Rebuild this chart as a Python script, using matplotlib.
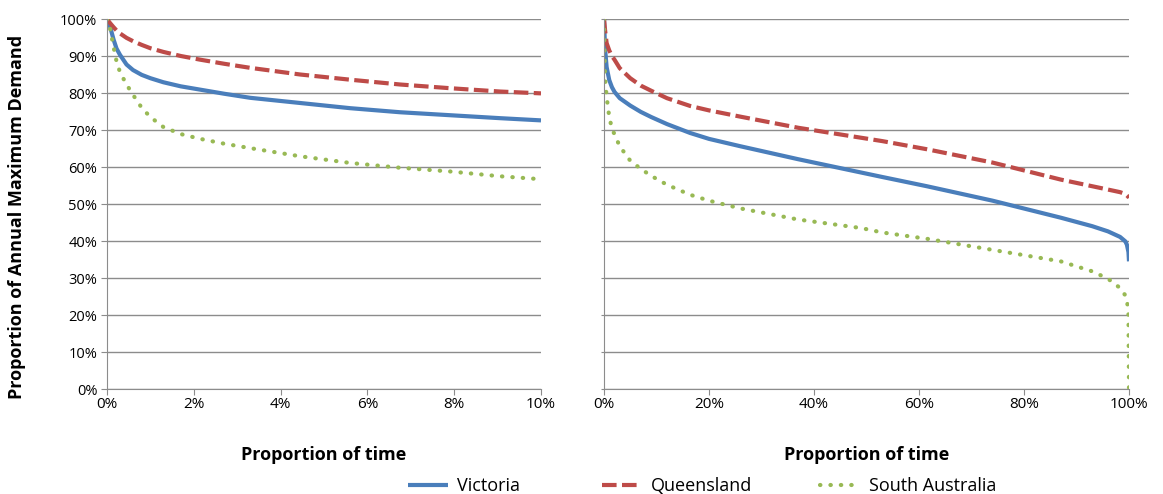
import numpy as np
import matplotlib
matplotlib.use('Agg')
import matplotlib.pyplot as plt
from matplotlib.ticker import FuncFormatter

plt.rcParams['font.family'] = ['Open Sans', 'DejaVu Sans']

# left panel: first 10% of time
x_left = [0, 0.03, 0.07, 0.15, 0.22, 0.3, 0.45, 0.6, 0.8, 1.0, 1.3, 1.7, 2.15, 2.7, 3.3, 4.45, 5.6, 6.75, 7.9, 9.05, 10]
vic_left = [100, 99, 98, 94.5, 92, 90.3, 87.7, 86.2, 84.9, 84, 82.9, 81.8, 80.9, 79.8, 78.7, 77.3, 75.9, 74.8, 74, 73.2, 72.6]
qld_left = [100, 99.5, 98.9, 97.8, 96.9, 96.1, 94.9, 94, 93, 92.1, 91.1, 90, 89, 87.9, 86.8, 85, 83.6, 82.3, 81.3, 80.4, 79.9]
sa_left = [100, 99, 97.5, 92.5, 88.5, 85.6, 82.3, 79.5, 76, 73.5, 70.8, 68.9, 67.6, 66.3, 65.1, 62.9, 61.1, 59.8, 58.8, 57.5, 56.7]

# right panel: whole year
x_right = [0, 0.1, 0.2, 0.5, 1, 1.5, 2, 3, 5, 7, 9, 12, 16.4, 20, 26, 37, 49, 53, 61.5, 74, 87, 93, 96, 98.3, 99.3, 99.6, 99.9, 100]
vic_right = [100, 96, 92, 87, 83.5, 81.6, 80.3, 78.6, 76.6, 74.9, 73.5, 71.6, 69.2, 67.6, 65.6, 62.1, 58.5, 57.3, 54.8, 50.9, 46.3, 44.0, 42.6, 41.1, 39.9, 39, 37, 34.5]
qld_right = [100, 98.5, 97, 93.5, 91.5, 90, 89, 86.7, 84, 82.0, 80.6, 78.6, 76.5, 75.3, 73.6, 70.6, 67.9, 67, 64.8, 61.2, 56.6, 54.8, 53.9, 53.2, 52.7, 52.3, 51.9, 51.6]
sa_right = [100, 90, 84, 79, 73.5, 70.5, 68.8, 65.6, 61.7, 59.5, 57.6, 55.2, 52.5, 50.9, 48.8, 45.8, 43.5, 42.3, 40.6, 37.6, 34.5, 31.8, 29.8, 27.3, 25.3, 24.3, 20, 0]

labels = ['Victoria', 'Queensland', 'South Australia']
colors = ['#4a7ebb', '#be4b48', '#98b954']

fig = plt.figure(figsize=(11.63, 4.94), dpi=100)
ax1 = fig.add_axes([107/1163, 1-389/494, (541-107)/1163, 370/494])
ax2 = fig.add_axes([604/1163, 1-389/494, (1129-604)/1163, 370/494])

pct = FuncFormatter(lambda v, p: '%d%%' % round(v))

def draw(ax, x, vic, qld, sa):
    l1, = ax.plot(x, vic, color=colors[0], lw=3, solid_capstyle='butt')
    l2, = ax.plot(x, qld, color=colors[1], lw=3, dashes=(3.5, 1.3))
    l3, = ax.plot(x, sa, color=colors[2], lw=3, dashes=(0.1, 2.4), dash_capstyle='round')
    ax.set_ylim(0, 100)
    ax.set_yticks(range(0, 101, 10))
    ax.yaxis.grid(True, color='#8c8c8c', lw=1)
    ax.set_axisbelow(True)
    for s in ['top', 'right']:
        ax.spines[s].set_visible(False)
    for s in ['left', 'bottom']:
        ax.spines[s].set_color('#8c8c8c')
    ax.tick_params(axis='x', direction='out', length=4, color='#8c8c8c', labelsize=11, pad=2)
    ax.tick_params(axis='y', direction='out', length=4, color='#8c8c8c', labelsize=10.5, pad=3)
    ax.xaxis.set_major_formatter(pct)
    ax.yaxis.set_major_formatter(pct)
    ax.set_xlabel('Proportion of time', fontsize=13, fontweight='bold', labelpad=24)
    return [l1, l2, l3]

lines = draw(ax1, x_left, vic_left, qld_left, sa_left)
ax1.set_xlim(0, 10)
ax1.set_xticks(range(0, 11, 2))
ax1.set_ylabel('Proportion of Annual Maximum Demand', fontsize=13, fontweight='bold')
ax1.yaxis.set_label_coords(-0.186, 0.465)

draw(ax2, x_right, vic_right, qld_right, sa_right)
ax2.set_xlim(0, 100)
ax2.set_xticks(range(0, 101, 20))
ax2.tick_params(axis='y', labelleft=False, length=2)

# one legend per entry so the spacing follows the original
for line, lab, xpos in zip(lines, labels, [408, 602, 820]):
    fig.legend([line], [lab], loc='center left', bbox_to_anchor=(xpos/1163, 1-486/494),
               frameon=False, fontsize=13, handlelength=2.2, handletextpad=0.5,
               borderaxespad=0, borderpad=0)

fig.savefig('out.png', dpi=100)
